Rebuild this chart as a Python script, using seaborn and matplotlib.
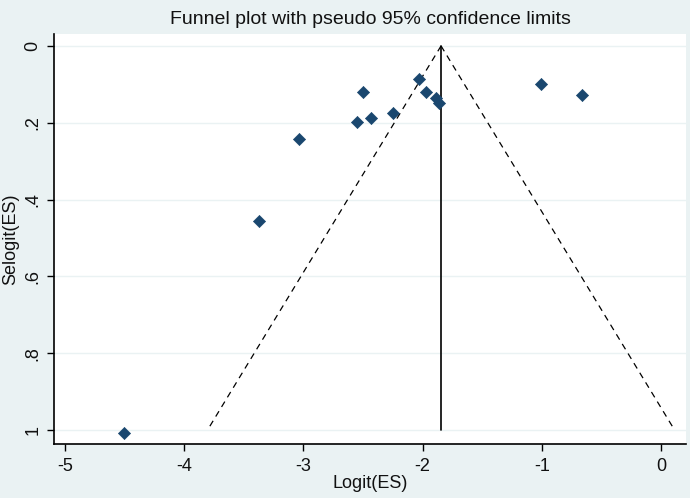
import matplotlib
matplotlib.use("Agg")
import matplotlib.pyplot as plt
import seaborn as sns
import numpy as np
import pandas as pd

# Data
logit_es = [-2.503, -2.553, -2.435, -2.246, -2.028, -1.974, -1.888, -1.862,
            -1.007, -0.660, -3.034, -3.372, -4.505]
selogit_es = [0.120, 0.198, 0.187, 0.174, 0.087, 0.120, 0.135, 0.149,
              0.099, 0.127, 0.242, 0.455, 1.008]
theta = -1.845          # pooled estimate
se_max = 1.0            # funnel depth
z95 = 1.96
x_ticks = [-5, -4, -3, -2, -1, 0]
y_ticks = [0, 0.2, 0.4, 0.6, 0.8, 1.0]
y_tick_labels = ["0", ".2", ".4", ".6", ".8", "1"]

df = pd.DataFrame({"Logit(ES)": logit_es, "Selogit(ES)": selogit_es})

sns.set_theme(style="white")
plt.rcParams["font.family"] = ["Liberation Sans", "DejaVu Sans"]

bg = "#EAF2F3"
fig = plt.figure(figsize=(6.9, 4.98), dpi=100, facecolor=bg)
ax = fig.add_axes([0.0783, 0.1084, 0.9159, 0.8233])
ax.set_facecolor("white")

for yt in y_ticks:
    ax.axhline(yt, color=bg, lw=1.0, zorder=0)

se_line = np.array([0.0, se_max])
ax.plot(theta - z95 * se_line, se_line, color="black", lw=0.9, ls=(0, (5, 4)), zorder=2)
ax.plot(theta + z95 * se_line, se_line, color="black", lw=0.9, ls=(0, (5, 4)), zorder=2)
ax.plot([theta, theta], se_line, color="black", lw=1.2, zorder=2)

sns.scatterplot(data=df, x="Logit(ES)", y="Selogit(ES)", ax=ax, marker="D",
                s=38, color="#1a476f", edgecolor="#1a476f", linewidth=0.5, zorder=3)

ax.set_xlim(-5.092, 0.21)
ax.set_ylim(1.036, -0.031)
ax.set_xticks(x_ticks)
ax.set_xticklabels([str(t) for t in x_ticks])
ax.set_yticks(y_ticks)
ax.set_yticklabels(y_tick_labels, rotation=90, va="center")

for s in ["top", "right"]:
    ax.spines[s].set_visible(False)
for s in ["left", "bottom"]:
    ax.spines[s].set_color("black")
    ax.spines[s].set_linewidth(1.2)

ax.tick_params(axis="both", which="major", direction="out", length=5, width=1,
               color="black", labelsize=13, labelcolor="#111111", left=True, bottom=True)
ax.tick_params(axis="y", pad=4)
ax.tick_params(axis="x", pad=5)

ax.set_xlabel("Logit(ES)", fontsize=13, color="#111111", labelpad=0)
ax.set_ylabel("Selogit(ES)", fontsize=13, color="#111111", labelpad=4)
ax.set_title("Funnel plot with pseudo 95% confidence limits", fontsize=14,
             color="#111111", pad=7)

fig.savefig("out.png", dpi=100, facecolor=bg)
